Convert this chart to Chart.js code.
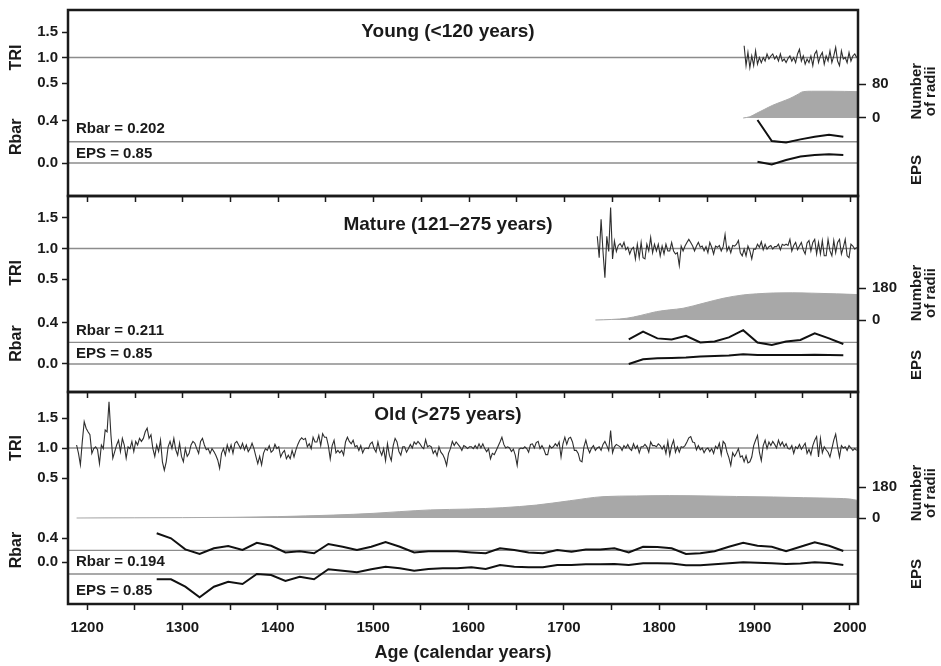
<!DOCTYPE html>
<html><head><meta charset="utf-8">
<script src="https://cdn.jsdelivr.net/npm/chart.js@4/dist/chart.umd.min.js"></script>
<style>html,body{margin:0;padding:0;background:#fff}#wrap{width:941px;height:666px}</style>
</head><body><div id="wrap"><canvas id="c" width="941" height="666"></canvas></div>
<script>
// ---------------- data ----------------
const panelTitles = ['Young (<120 years)', 'Mature (121\u2013275 years)', 'Old (>275 years)'];
const xTickYears = [1200,1250,1300,1350,1400,1450,1500,1550,1600,1650,1700,1750,1800,1850,1900,1950,2000];
const triTickValues = [0.5, 1.0, 1.5];
const rbarTickValues = [0.0, 0.4];
const youngRadiiTicks = [0, 80];
const matureRadiiTicks = [0, 180];
const oldRadiiTicks = [0, 180];
const triMean = 1.0;
const epsThreshold = 0.85;
const youngRbarMean = 0.202;
const matureRbarMean = 0.211;
const oldRbarMean = 0.194;

// tree-ring index, one value every TRI_STEP years
const TRI_STEP = 2;
const youngTriStart = 1889;
const youngTri = [1.23,0.84,1.10,0.80,1.03,0.84,1.13,0.87,1.00,0.90,
1.00,0.93,1.07,0.97,1.03,1.07,0.97,1.03,0.93,1.07,
0.93,0.97,0.90,0.98,1.03,0.93,1.00,0.90,1.07,1.16,
0.93,1.03,0.87,0.97,0.90,1.03,0.84,1.07,1.13,0.90,
1.03,1.10,0.87,1.03,0.93,1.13,0.90,1.03,1.20,0.93,
0.84,1.13,0.97,1.00,0.90,1.10,0.93,1.03,1.07,1.00];

const matureTriStart = 1735;
const matureTri = [1.20,0.85,1.48,0.95,0.52,1.20,0.95,1.67,0.83,1.12,
0.95,1.05,1.08,1.02,1.10,0.98,1.02,0.91,0.99,1.02,
0.83,1.07,0.85,1.10,0.85,0.83,1.07,0.96,1.18,0.93,
1.07,0.96,1.07,0.88,1.04,0.91,1.07,0.96,0.96,1.10,
0.96,0.91,0.93,0.72,1.04,0.96,1.04,1.10,1.15,1.10,
1.04,0.96,1.04,1.10,1.02,1.04,0.96,1.03,0.93,1.10,
1.02,0.91,1.04,1.02,1.05,0.96,1.03,1.23,0.96,1.03,
0.93,1.05,1.04,1.07,1.13,0.93,0.88,0.99,0.88,1.04,
0.96,0.83,0.99,0.99,1.07,1.02,1.11,0.98,1.07,0.99,
1.03,1.05,0.99,1.03,1.03,1.07,0.98,1.07,1.05,1.07,
1.05,1.15,0.96,1.05,1.10,0.98,1.04,1.10,0.98,0.91,
1.09,1.13,0.96,1.10,1.15,0.91,1.10,0.91,1.13,0.88,
0.88,1.15,0.96,0.88,1.13,0.93,1.10,1.15,0.91,1.02,
1.15,0.88,0.85,1.07,1.04,0.99,1.02];

const oldTriStart = 1189;
const oldTri = [1.05,0.91,0.72,1.11,1.44,1.33,1.27,1.22,0.91,0.99,
1.02,0.97,0.74,1.05,0.99,1.30,1.27,1.77,1.22,0.83,
0.94,1.05,1.13,0.94,1.16,1.05,0.83,1.02,0.99,1.11,
0.94,1.11,1.05,1.16,1.11,1.16,1.27,1.33,1.16,1.22,
0.99,0.86,1.05,0.94,1.13,0.77,0.63,0.77,1.02,1.11,
0.99,1.16,0.97,0.88,1.08,0.86,0.77,0.99,0.86,0.91,
1.05,1.11,1.08,0.99,0.91,1.11,1.16,1.05,0.97,0.99,
0.91,0.99,0.94,0.88,0.80,0.66,0.91,0.99,0.88,1.05,
0.94,1.05,0.91,1.08,1.11,1.05,0.99,1.08,0.97,1.05,
0.94,0.99,1.08,0.99,0.86,0.74,0.86,0.72,0.91,0.99,
0.96,1.04,0.93,0.96,1.06,0.99,1.02,0.85,0.92,0.96,
0.82,0.88,0.82,0.96,0.85,0.97,1.06,1.13,1.17,1.14,
1.16,1.02,1.07,0.99,1.18,1.10,1.10,1.21,1.04,1.24,
1.18,1.18,1.04,0.82,1.04,1.13,0.92,0.96,0.92,0.96,
0.88,1.10,1.18,1.11,1.07,1.13,1.02,1.04,0.96,1.04,
0.92,0.99,1.00,0.99,1.07,1.10,0.99,0.93,1.10,0.96,
0.88,0.99,0.79,1.07,0.88,0.79,1.04,1.16,1.10,0.94,
0.88,1.02,1.02,0.93,0.99,1.06,1.00,1.10,1.06,1.11,
1.07,1.02,0.99,1.14,1.02,1.04,1.02,0.91,0.96,0.87,
1.02,0.93,0.89,0.82,0.71,0.91,0.99,1.11,1.04,1.10,
1.06,1.02,0.96,1.04,
1.02,0.99,1.02,1.02,0.99,1.04,0.99,1.07,1.00,1.07,
0.99,0.94,0.99,0.82,0.91,0.89,0.96,1.03,1.10,1.18,
1.06,1.00,1.02,1.00,0.94,0.98,0.88,0.71,0.98,1.00,
0.99,1.02,0.99,0.93,1.06,1.07,1.00,1.09,1.11,0.99,
1.04,0.98,0.89,0.89,1.04,1.00,1.02,1.07,1.03,1.10,
0.85,1.07,1.18,1.06,1.16,1.18,1.10,0.96,0.96,0.91,
0.79,0.77,1.02,1.13,1.00,0.92,1.00,1.04,0.96,1.00,
1.02,0.96,1.06,1.11,1.04,0.96,1.29,0.92,1.02,1.06,
1.04,1.02,0.96,1.04,1.00,1.06,0.99,0.96,1.07,0.99,
1.04,0.92,1.02,1.02,1.06,1.02,0.93,1.10,1.04,1.04,
1.02,1.07,
1.04,0.98,1.04,0.91,1.11,0.88,1.04,1.13,0.93,1.02,
0.93,1.02,1.01,1.04,1.10,1.17,1.19,1.10,1.09,0.97,
1.04,0.97,1.00,0.92,0.98,1.00,0.94,0.99,0.91,1.03,
0.99,1.08,0.89,1.11,1.07,0.93,0.84,0.71,0.92,0.86,
0.92,0.99,0.85,0.87,0.77,0.87,0.75,0.77,0.85,1.04,
1.13,1.21,0.93,0.79,1.04,1.13,0.99,1.10,1.04,1.11,
1.06,1.00,1.13,1.04,1.10,1.02,1.07,0.99,0.98,1.04,
0.91,1.02,0.99,1.06,0.98,1.03,1.08,0.91,0.98,0.89,
1.04,1.13,1.19,0.85,1.16,0.92,1.02,0.97,0.93,0.85,
0.99,1.13,1.23,1.02,0.85,1.04,1.00,1.02,0.96,1.04,
1.00,0.96,0.99,0.96];

// Rbar and EPS, one value per 15-year window
const WINDOW_STEP = 15;
const youngWindowStart = 1903;
const youngRbar = [0.41,0.21,0.195,0.225,0.25,0.27,0.25];
const youngEps  = [0.863,0.835,0.88,0.915,0.93,0.937,0.93];
const matureWindowStart = 1768;
const matureRbar = [0.24,0.315,0.25,0.24,0.275,0.21,0.22,0.26,0.33,0.21,0.185,0.22,0.235,0.30,0.25,0.195];
const matureEps  = [0.85,0.897,0.907,0.91,0.915,0.925,0.93,0.935,0.947,0.94,0.94,0.94,0.94,0.943,0.94,0.937];
const oldWindowStart = 1273;
const oldRbar = [0.48,0.395,0.21,0.133,0.23,0.267,0.20,0.32,0.27,0.16,
0.18,0.145,0.30,0.255,0.20,0.255,0.333,0.255,0.16,0.18,
0.18,0.18,0.16,0.145,0.23,0.20,0.16,0.145,0.20,0.17,
0.21,0.21,0.23,0.16,0.255,0.25,0.23,0.133,0.145,0.18,
0.255,0.32,0.27,0.255,0.18,0.255,0.33,0.27,0.183];
const oldEps = [0.797,0.797,0.723,0.617,0.723,0.773,0.75,0.85,0.84,0.78,
0.823,0.797,0.897,0.883,0.867,0.897,0.923,0.907,0.883,0.90,
0.907,0.907,0.917,0.90,0.94,0.923,0.917,0.917,0.94,0.94,
0.947,0.947,0.95,0.94,0.957,0.957,0.955,0.937,0.937,0.947,
0.957,0.967,0.963,0.957,0.95,0.955,0.967,0.96,0.94];

// number of radii (sample depth)
const youngRadiiYears = [1888,1895,1902,1910,1919,1928,1937,1944,1951,1960,1980,2008];
const youngRadii      = [0,3,11,20,30,38,46,54,62,63,63,62];
const matureRadiiYears = [1733,1750,1766,1780,1797,1811,1825,1846,1867,1888,1902,1920,1940,1960,1986,2008];
const matureRadii      = [0,3,10,25,47,57,66,94,122,141,147,152,153,151,147,143];
const oldRadiiYears = [1189,1250,1300,1353,1400,1458,1500,1528,1560,1600,1636,1671,1706,1741,1776,1811,1850,1881,1920,1951,1986,2000,2008];
const oldRadii      = [0,1,2,4,8,17,27,37,47,52,60,75,100,124,128,130,128,125,122,118,114,110,102];

// ---------------- layout (pixels / styles) ----------------
const X_MIN = 1180, X_MAX = 2008.4;
const AREA = {left: 68, right: 858, top: 10, bottom: 604};
const PANEL_EDGES = [10, 196, 392, 604];
const FONT = "'Liberation Sans', Arial, Helvetica, sans-serif";
const INK = '#1a1a1a';
// anchors: [value, pixel, value, pixel]
const PANEL_LAYOUT = [
  {tri:[1.5,32,0.5,83], radii:[80,84,0,118], rbar:[0.4,121,0,163], eps:[0.85,163,1.0,148],
   titleAt:1.5, triLabelAt:1.0, rbarLabelAt:0.25, radiiLabelAt:63, epsLabelAt:0.78, rbarNoteAt:0.324, epsNoteAt:0.94},
  {tri:[1.5,218,0.5,279], radii:[180,288,0,320], rbar:[0.4,323,0,364], eps:[0.85,364,1.0,349],
   titleAt:1.385, triLabelAt:0.6, rbarLabelAt:0.2, radiiLabelAt:152, epsLabelAt:0.84, rbarNoteAt:0.322, epsNoteAt:0.95},
  {tri:[1.5,418,0.5,478], radii:[180,487,0,518], rbar:[0.4,538,0,562], eps:[0.85,574,1.0,559],
   titleAt:1.55, triLabelAt:1.0, rbarLabelAt:0.2, radiiLabelAt:145, epsLabelAt:0.85, rbarNoteAt:0.0, epsNoteAt:0.68}
];

function anchoredRange(a) {
  const [v1, p1, v2, p2] = a;
  const k = (v1 - v2) / (p2 - p1);
  return {min: v1 - (AREA.bottom - p1) * k, max: v1 + (p1 - AREA.top) * k};
}
function series(start, step, values) { return values.map((v, i) => ({x: start + i * step, y: v})); }
function pairs(xs, ys) { return xs.map((x, i) => ({x: x, y: ys[i]})); }
function hline(v) { return [{x: X_MIN, y: v}, {x: X_MAX, y: v}]; }

const panels = [
  {tri: series(youngTriStart, TRI_STEP, youngTri), radii: pairs(youngRadiiYears, youngRadii),
   rbar: series(youngWindowStart, WINDOW_STEP, youngRbar), eps: series(youngWindowStart, WINDOW_STEP, youngEps),
   rbarMean: youngRbarMean, radiiTicks: youngRadiiTicks},
  {tri: series(matureTriStart, TRI_STEP, matureTri), radii: pairs(matureRadiiYears, matureRadii),
   rbar: series(matureWindowStart, WINDOW_STEP, matureRbar), eps: series(matureWindowStart, WINDOW_STEP, matureEps),
   rbarMean: matureRbarMean, radiiTicks: matureRadiiTicks},
  {tri: series(oldTriStart, TRI_STEP, oldTri), radii: pairs(oldRadiiYears, oldRadii),
   rbar: series(oldWindowStart, WINDOW_STEP, oldRbar), eps: series(oldWindowStart, WINDOW_STEP, oldEps),
   rbarMean: oldRbarMean, radiiTicks: oldRadiiTicks}
];

// zero-size axis boxes so the plot area is exactly AREA; labels are not clipped to the box
function zeroBox(s, vertical) {
  if (vertical) s.width = 0; else s.height = 0;
  s.paddingTop = 0; s.paddingBottom = 0; s.paddingLeft = 0; s.paddingRight = 0;
  s._computeLabelArea = function () { return undefined; };
}

function yAxis(range, position, tickValues, show, fmt, tl, pad) {
  return {
    type: 'linear', position: position, display: show, min: range.min, max: range.max,
    afterFit(s) { zeroBox(s, true); },
    afterBuildTicks(s) { s.ticks = tickValues.map(v => ({value: v})); },
    grid: {drawOnChartArea: false, drawTicks: true, tickLength: tl, tickColor: INK, tickWidth: 1.5},
    border: {display: false},
    ticks: {color: INK, padding: pad, autoSkip: false, font: {family: FONT, size: 15, weight: 'bold'},
            callback: fmt}
  };
}

const scales = {
  x: {
    type: 'linear', position: 'bottom', min: X_MIN, max: X_MAX,
    afterFit(s) { zeroBox(s, false); },
    afterBuildTicks(s) { s.ticks = xTickYears.map(v => ({value: v})); },
    grid: {drawOnChartArea: false, tickLength: 6, tickColor: INK, tickWidth: 1.5},
    border: {display: false},
    ticks: {color: INK, padding: 9, autoSkip: false, maxRotation: 0, minRotation: 0,
            font: {family: FONT, size: 15, weight: 'bold'},
            callback: v => (v % 100 === 0 ? String(v) : '')}
  }
};
const datasets = [];
panels.forEach((p, i) => {
  const L = PANEL_LAYOUT[i];
  scales['tri' + i] = yAxis(anchoredRange(L.tri), 'left', triTickValues, true, v => v.toFixed(1), 6, 4);
  scales['rbar' + i] = yAxis(anchoredRange(L.rbar), 'left', rbarTickValues, true, v => v.toFixed(1), 6, 4);
  scales['rad' + i] = yAxis(anchoredRange(L.radii), 'right', p.radiiTicks, true, v => String(v), 8, 6);
  scales['eps' + i] = yAxis(anchoredRange(L.eps), 'right', [], false, v => '', 0, 0);

  const line = {pointRadius: 0, pointHoverRadius: 0, fill: false, tension: 0};
  datasets.push(Object.assign({}, line, {data: hline(triMean), yAxisID: 'tri' + i, borderColor: '#8c8c8c', borderWidth: 1.4, order: 5}));
  datasets.push(Object.assign({}, line, {data: hline(p.rbarMean), yAxisID: 'rbar' + i, borderColor: '#8c8c8c', borderWidth: 1.4, order: 5}));
  datasets.push(Object.assign({}, line, {data: hline(epsThreshold), yAxisID: 'eps' + i, borderColor: '#8c8c8c', borderWidth: 1.4, order: 5}));
  datasets.push(Object.assign({}, line, {data: p.radii, yAxisID: 'rad' + i, borderColor: '#a8a8a8', backgroundColor: '#a8a8a8',
    borderWidth: 1, fill: 'origin', cubicInterpolationMode: 'monotone', order: 6}));
  datasets.push(Object.assign({}, line, {data: p.tri, yAxisID: 'tri' + i, borderColor: '#2e2e2e', borderWidth: 1.1, order: 2}));
  datasets.push(Object.assign({}, line, {data: p.rbar, yAxisID: 'rbar' + i, borderColor: '#111', borderWidth: 2, order: 1}));
  datasets.push(Object.assign({}, line, {data: p.eps, yAxisID: 'eps' + i, borderColor: '#111', borderWidth: 2, order: 1}));
});

function rotText(ctx, text, x, y) {
  ctx.save(); ctx.translate(x, y); ctx.rotate(-Math.PI / 2); ctx.fillText(text, 0, 0); ctx.restore();
}

const decor = {
  id: 'decor',
  afterDraw(chart) {
    const ctx = chart.ctx, a = chart.chartArea, xs = chart.scales.x;
    ctx.save();
    ctx.strokeStyle = INK; ctx.fillStyle = INK;
    // panel frames
    ctx.lineWidth = 2.5;
    for (let i = 0; i < 3; i++) {
      ctx.strokeRect(a.left, PANEL_EDGES[i], a.right - a.left, PANEL_EDGES[i + 1] - PANEL_EDGES[i]);
    }
    // inward ticks on top edge of lower panels
    ctx.lineWidth = 1.5;
    for (let i = 1; i < 3; i++) {
      xTickYears.forEach(v => {
        const x = Math.round(xs.getPixelForValue(v)) + 0.5;
        ctx.beginPath(); ctx.moveTo(x, PANEL_EDGES[i]); ctx.lineTo(x, PANEL_EDGES[i] + 6); ctx.stroke();
      });
    }
    ctx.textBaseline = 'middle';
    panels.forEach((p, i) => {
      const L = PANEL_LAYOUT[i];
      const tri = chart.scales['tri' + i], rb = chart.scales['rbar' + i], rd = chart.scales['rad' + i], ep = chart.scales['eps' + i];
      ctx.textAlign = 'center';
      ctx.font = 'bold 19px ' + FONT;
      ctx.fillText(panelTitles[i], 448, tri.getPixelForValue(L.titleAt));
      ctx.font = 'bold 16px ' + FONT;
      rotText(ctx, 'TRI', 17, tri.getPixelForValue(L.triLabelAt));
      rotText(ctx, 'Rbar', 17, rb.getPixelForValue(L.rbarLabelAt));
      const ry = rd.getPixelForValue(L.radiiLabelAt);
      ctx.font = 'bold 15px ' + FONT;
      rotText(ctx, 'Number', a.right + 59, ry);
      rotText(ctx, 'of radii', a.right + 73, ry);
      rotText(ctx, 'EPS', a.right + 59, ep.getPixelForValue(L.epsLabelAt));
      ctx.textAlign = 'left';
      ctx.font = 'bold 15px ' + FONT;
      ctx.fillText('Rbar = ' + p.rbarMean.toFixed(3), a.left + 8, rb.getPixelForValue(L.rbarNoteAt));
      ctx.fillText('EPS = ' + epsThreshold.toFixed(2), a.left + 8, ep.getPixelForValue(L.epsNoteAt));
    });
    ctx.textAlign = 'center';
    ctx.font = 'bold 18px ' + FONT;
    ctx.fillText('Age (calendar years)', (a.left + a.right) / 2, 653);
    ctx.restore();
  }
};

new Chart(document.getElementById('c'), {
  type: 'line',
  data: {datasets: datasets},
  options: {
    responsive: false, animation: false, parsing: false, normalized: true,
    layout: {padding: {left: AREA.left, right: 941 - AREA.right, top: AREA.top, bottom: 666 - AREA.bottom}},
    plugins: {legend: {display: false}, tooltip: {enabled: false}},
    scales: scales
  },
  plugins: [decor]
});
</script></body></html>
